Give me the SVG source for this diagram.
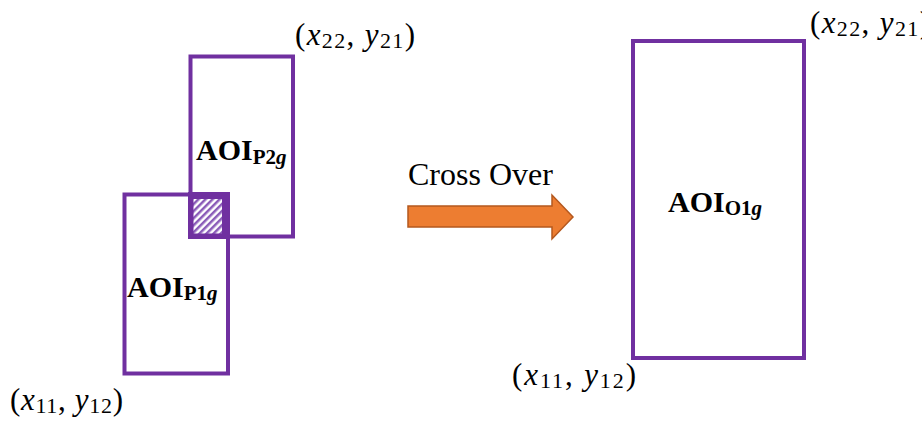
<svg xmlns="http://www.w3.org/2000/svg" width="922" height="423" viewBox="0 0 922 423">
<style>
.box{fill:none;stroke:#7030A0;stroke-width:4}
.lbl{font-family:"Liberation Serif",serif;font-weight:bold;font-size:30px;fill:#000}
.sub{font-size:21px}
.coord{font-family:"Liberation Serif",serif;font-size:31px;fill:#000}
.cs{font-size:22px}
.cap{font-family:"Liberation Serif",serif;font-size:32px;fill:#000}
</style>
<defs>
<pattern id="hatch" patternUnits="userSpaceOnUse" width="5" height="5" patternTransform="rotate(45)">
<rect width="5" height="5" fill="#ffffff"/>
<rect width="2.5" height="5" fill="#8a5bb8"/>
</pattern>
</defs>
<rect width="922" height="423" fill="#ffffff"/>
<g id="aoi-p1">
<rect class="box" x="124.5" y="194.5" width="103.5" height="179"/>
<text class="lbl" x="127" y="297">AOI<tspan class="sub" dy="3">P1<tspan font-style="italic">g</tspan></tspan></text>
<text class="coord" x="10" y="410" textLength="113">(<tspan font-style="italic">x</tspan><tspan class="cs" dy="3">11</tspan><tspan dy="-3">, </tspan><tspan font-style="italic">y</tspan><tspan class="cs" dy="3">12</tspan><tspan dy="-3">)</tspan></text>
</g>
<g id="aoi-p2">
<rect class="box" x="190.5" y="56.5" width="102.5" height="180"/>
<text class="lbl" x="196" y="160">AOI<tspan class="sub" dy="4">P2<tspan font-style="italic">g</tspan></tspan></text>
<text class="coord" x="295" y="45" textLength="120">(<tspan font-style="italic">x</tspan><tspan class="cs" dy="3">22</tspan><tspan dy="-3">, </tspan><tspan font-style="italic">y</tspan><tspan class="cs" dy="3">21</tspan><tspan dy="-3">)</tspan></text>
</g>
<g id="overlap">
<rect x="188" y="192" width="42" height="47" fill="#7030A0"/>
<rect x="193.5" y="199" width="28.5" height="34.5" fill="url(#hatch)"/>
</g>
<g id="aoi-o1">
<rect class="box" x="633" y="41" width="171" height="317"/>
<text class="lbl" x="668" y="212">AOI<tspan class="sub" dy="3">O1<tspan font-style="italic">g</tspan></tspan></text>
<text class="coord" x="810" y="33" textLength="120">(<tspan font-style="italic">x</tspan><tspan class="cs" dy="3">22</tspan><tspan dy="-3">, </tspan><tspan font-style="italic">y</tspan><tspan class="cs" dy="3">21</tspan><tspan dy="-3">)</tspan></text>
<text class="coord" x="512" y="385" textLength="124">(<tspan font-style="italic">x</tspan><tspan class="cs" dy="3">11</tspan><tspan dy="-3">, </tspan><tspan font-style="italic">y</tspan><tspan class="cs" dy="3">12</tspan><tspan dy="-3">)</tspan></text>
</g>
<g id="connectors">
<path d="M408,206 L552,206 L552,195 L573,217 L552,239 L552,227 L408,227 Z" fill="#ED7D31" stroke="#B4581E" stroke-width="1.5"/>
<text class="cap" x="408" y="185">Cross Over</text>
</g>
</svg>
